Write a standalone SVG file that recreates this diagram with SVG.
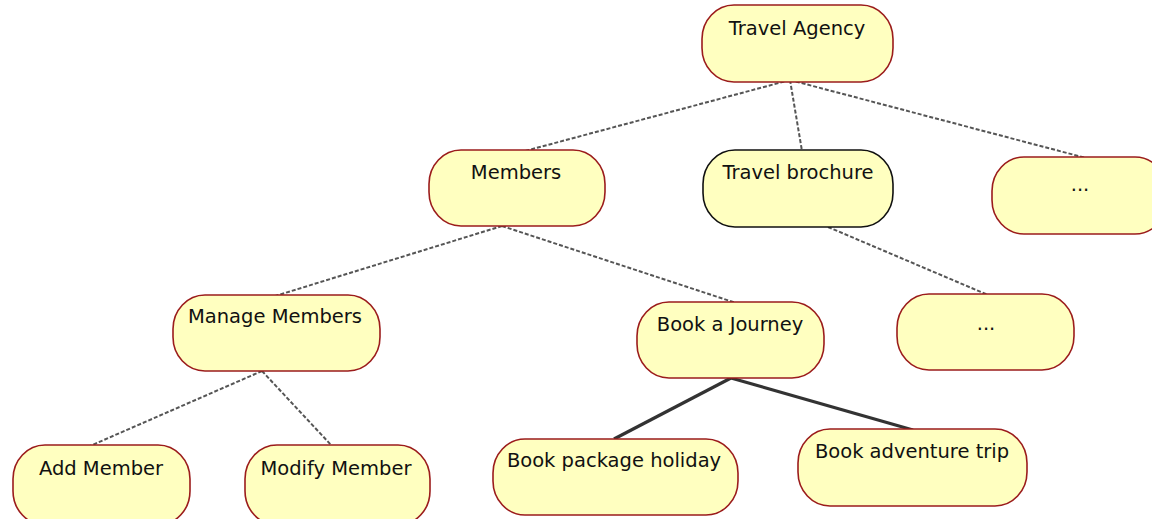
<svg xmlns="http://www.w3.org/2000/svg" width="1152" height="519" viewBox="0 0 1152 519">
  <style>
    .node rect { fill: #ffffc0; stroke: #9b1c1c; stroke-width: 1.6; }
    .node.sel rect { stroke: #111; }
    .node text { font-family: "DejaVu Sans", Verdana, sans-serif; font-size: 19.5px; fill: #111; text-anchor: middle; }
    .dash { stroke: #555; stroke-width: 2; stroke-dasharray: 4 2; fill: none; }
    .solid { stroke: #333; stroke-width: 3.2; fill: none; }
  </style>

  <!-- connectors -->
  <g id="connectors">
    <line class="dash" x1="790" y1="80" x2="525" y2="151"/>
    <line class="dash" x1="790" y1="80" x2="802" y2="151"/>
    <line class="dash" x1="790" y1="80" x2="1086" y2="158"/>
    <line class="dash" x1="502" y1="226" x2="272" y2="297"/>
    <line class="dash" x1="502" y1="226" x2="736" y2="303"/>
    <line class="dash" x1="828" y1="227" x2="988" y2="295"/>
    <line class="dash" x1="262" y1="371" x2="90" y2="446"/>
    <line class="dash" x1="262" y1="371" x2="332" y2="446"/>
    <line class="solid" x1="731" y1="378" x2="614" y2="439"/>
    <line class="solid" x1="731" y1="378" x2="913" y2="430"/>
  </g>

  <!-- nodes -->
  <g id="travel-agency" class="node">
    <rect x="702" y="5" width="191" height="77" rx="32" ry="34"/>
    <text x="797" y="35">Travel Agency</text>
  </g>
  <g id="members" class="node">
    <rect x="429" y="150" width="176" height="76" rx="32" ry="34"/>
    <text x="516" y="179">Members</text>
  </g>
  <g id="travel-brochure" class="node sel">
    <rect x="703" y="150" width="190" height="77" rx="32" ry="34"/>
    <text x="798" y="179">Travel brochure</text>
  </g>
  <g id="more-1" class="node">
    <rect x="992" y="157" width="175" height="77" rx="32" ry="34"/>
    <text x="1080" y="191">...</text>
  </g>
  <g id="manage-members" class="node">
    <rect x="173" y="295" width="207" height="76" rx="32" ry="34"/>
    <text x="275" y="323">Manage Members</text>
  </g>
  <g id="book-journey" class="node">
    <rect x="637" y="302" width="187" height="76" rx="32" ry="34"/>
    <text x="730" y="331">Book a Journey</text>
  </g>
  <g id="more-2" class="node">
    <rect x="897" y="294" width="177" height="76" rx="32" ry="34"/>
    <text x="986" y="330">...</text>
  </g>
  <g id="add-member" class="node">
    <rect x="13" y="445" width="177" height="80" rx="32" ry="34"/>
    <text x="101" y="475">Add Member</text>
  </g>
  <g id="modify-member" class="node">
    <rect x="245" y="445" width="185" height="80" rx="32" ry="34"/>
    <text x="336" y="475">Modify Member</text>
  </g>
  <g id="book-package" class="node">
    <rect x="493" y="439" width="245" height="76" rx="32" ry="34"/>
    <text x="614" y="467">Book package holiday</text>
  </g>
  <g id="book-adventure" class="node">
    <rect x="798" y="429" width="229" height="77" rx="32" ry="34"/>
    <text x="912" y="458">Book adventure trip</text>
  </g>
</svg>
